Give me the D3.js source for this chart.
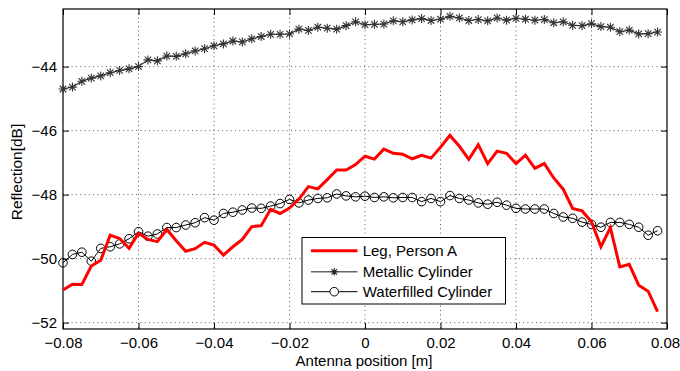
<!DOCTYPE html>
<html>
<head>
<meta charset="utf-8">
<script src="https://cdn.jsdelivr.net/npm/d3@7/dist/d3.min.js"></script>
<style>
  html, body { margin: 0; padding: 0; background: #fff; }
  svg { display: block; font-family: "Liberation Sans", Arial, Helvetica, sans-serif; }
</style>
</head>
<body>
<svg id="chart" width="680" height="371"></svg>
<script>
// Antenna positions: 64 samples, 2.5 mm apart, from -0.08 m
const positions = d3.range(64).map(i => -0.08 + i * 0.0025);

// Measured reflection [dB] per antenna position
const legPersonA = [
  -50.98, -50.80, -50.81, -50.23, -50.05, -49.27, -49.37, -49.68, -49.21, -49.40,
  -49.47, -49.09, -49.44, -49.77, -49.69, -49.49, -49.58, -49.89, -49.63, -49.40,
  -49.00, -48.97, -48.46, -48.59, -48.42, -48.14, -47.75, -47.82, -47.53, -47.23,
  -47.23, -47.06, -46.80, -46.89, -46.58, -46.71, -46.74, -46.88, -46.77, -46.86,
  -46.52, -46.15, -46.49, -46.90, -46.44, -47.03, -46.64, -46.71, -47.03, -46.77,
  -47.18, -47.03, -47.48, -47.83, -48.43, -48.51, -48.85, -49.63, -49.03, -50.26,
  -50.18, -50.83, -51.02, -51.66
];
const metallicCylinder = [
  -44.70, -44.64, -44.46, -44.36, -44.29, -44.19, -44.12, -44.07, -44.00, -43.79,
  -43.82, -43.67, -43.68, -43.60, -43.51, -43.44, -43.35, -43.29, -43.20, -43.23,
  -43.13, -43.06, -42.99, -42.99, -42.98, -42.83, -42.87, -42.77, -42.80, -42.83,
  -42.72, -42.60, -42.69, -42.68, -42.67, -42.57, -42.60, -42.54, -42.50, -42.56,
  -42.52, -42.43, -42.48, -42.56, -42.53, -42.57, -42.48, -42.55, -42.49, -42.52,
  -42.55, -42.53, -42.63, -42.60, -42.71, -42.72, -42.66, -42.75, -42.77, -42.91,
  -42.86, -42.98, -42.97, -42.92
];
const waterfilledCylinder = [
  -50.13, -49.87, -49.80, -50.08, -49.68, -49.63, -49.54, -49.38, -49.16, -49.30,
  -49.23, -49.03, -49.03, -48.95, -48.88, -48.72, -48.80, -48.59, -48.55, -48.48,
  -48.42, -48.43, -48.36, -48.28, -48.15, -48.26, -48.17, -48.12, -48.10, -47.98,
  -48.04, -48.07, -48.05, -48.09, -48.07, -48.10, -48.09, -48.09, -48.22, -48.12,
  -48.22, -48.03, -48.12, -48.17, -48.26, -48.30, -48.24, -48.33, -48.43, -48.45,
  -48.45, -48.45, -48.59, -48.70, -48.74, -48.86, -48.93, -49.02, -48.87, -48.87,
  -48.93, -49.02, -49.27, -49.13
];

const xTicks = [-0.08, -0.06, -0.04, -0.02, 0, 0.02, 0.04, 0.06, 0.08];
const yTicks = [-52, -50, -48, -46, -44];
const seriesNames = ["Leg, Person A", "Metallic Cylinder", "Waterfilled Cylinder"];

const svg = d3.select("#chart");
const plot = { left: 63, right: 667, top: 9, bottom: 329 };
const fontSize = "15px";

const x = d3.scaleLinear().domain([-0.08, 0.08]).range([plot.left, plot.right]);
const y = d3.scaleLinear().domain([-52.2, -42.2]).range([plot.bottom, plot.top]);

const fmt = v => (v === 0 ? "0" : d3.format("")(v)).replace("-", "\u2212");

// grid
const grid = svg.append("g").attr("stroke", "#333").attr("stroke-width", 0.8)
  .attr("stroke-dasharray", "1,3.3");
xTicks.slice(1, -1).forEach(t => {
  grid.append("line").attr("x1", x(t)).attr("x2", x(t))
    .attr("y1", plot.top).attr("y2", plot.bottom);
});
yTicks.forEach(t => {
  grid.append("line").attr("x1", plot.left).attr("x2", plot.right)
    .attr("y1", y(t)).attr("y2", y(t));
});

// axes (ticks pointing inward, mirrored on the opposite sides)
const tickLen = 6;
const xAxisB = d3.axisBottom(x).tickValues(xTicks).tickSizeInner(-tickLen).tickSizeOuter(0)
  .tickPadding(8.5).tickFormat(fmt);
const xAxisT = d3.axisTop(x).tickValues(xTicks).tickSizeInner(-tickLen).tickSizeOuter(0)
  .tickFormat("");
const yAxisL = d3.axisLeft(y).tickValues(yTicks).tickSizeInner(-tickLen).tickSizeOuter(0)
  .tickPadding(6).tickFormat(fmt);
const yAxisR = d3.axisRight(y).tickValues(yTicks).tickSizeInner(-tickLen).tickSizeOuter(0)
  .tickFormat("");

function styleAxis(g) {
  g.select(".domain").remove();
  g.selectAll(".tick line").attr("stroke", "#000").attr("stroke-width", 1);
  g.selectAll(".tick text").attr("fill", "#000").style("font-size", fontSize)
    .style("font-family", "'Liberation Sans', Arial, sans-serif");
}
svg.append("g").attr("transform", `translate(0,${plot.bottom})`).call(xAxisB).call(styleAxis)
  .selectAll(".tick text").filter(d => d === 0.08).attr("dx", -2); // keep the last label inside the frame
svg.append("g").attr("transform", `translate(0,${plot.top})`).call(xAxisT).call(styleAxis);
svg.append("g").attr("transform", `translate(${plot.left},0)`).call(yAxisL).call(styleAxis);
svg.append("g").attr("transform", `translate(${plot.right},0)`).call(yAxisR).call(styleAxis);

// plot box
svg.append("rect").attr("x", plot.left).attr("y", plot.top)
  .attr("width", plot.right - plot.left).attr("height", plot.bottom - plot.top)
  .attr("fill", "none").attr("stroke", "#000").attr("stroke-width", 1.2);

// axis labels
svg.append("text").attr("x", 364).attr("y", 366)
  .attr("text-anchor", "middle").style("font-size", fontSize).text("Antenna position [m]");
svg.append("text").attr("transform", `translate(22,172) rotate(-90)`)
  .attr("text-anchor", "middle").style("font-size", "15.5px").text("Reflection[dB]");

const line = d3.line().x((d, i) => x(positions[i])).y(d => y(d));

// star marker path ('*': plus + cross)
function starPath(cx, cy, r) {
  const d = r * 0.72;
  return `M${cx - r},${cy}L${cx + r},${cy}M${cx},${cy - r}L${cx},${cy + r}` +
    `M${cx - d},${cy - d}L${cx + d},${cy + d}M${cx - d},${cy + d}L${cx + d},${cy - d}`;
}

// Metallic cylinder
svg.append("path").datum(metallicCylinder).attr("d", line)
  .attr("fill", "none").attr("stroke", "#222").attr("stroke-width", 1.1);
svg.append("g").selectAll("path").data(metallicCylinder).join("path")
  .attr("d", (d, i) => starPath(x(positions[i]), y(d), 4.5))
  .attr("stroke", "#333").attr("stroke-width", 1.1).attr("fill", "none");

// Waterfilled cylinder
svg.append("path").datum(waterfilledCylinder).attr("d", line)
  .attr("fill", "none").attr("stroke", "#000").attr("stroke-width", 1);
svg.append("g").selectAll("circle").data(waterfilledCylinder).join("circle")
  .attr("cx", (d, i) => x(positions[i])).attr("cy", d => y(d)).attr("r", 4.3)
  .attr("fill", "none").attr("stroke", "#000").attr("stroke-width", 1);

// Leg, person A
svg.append("path").datum(legPersonA).attr("d", line)
  .attr("fill", "none").attr("stroke", "#ff0000").attr("stroke-width", 3)
  .attr("stroke-linejoin", "miter");

// legend
const lg = svg.append("g");
lg.append("rect").attr("x", 302).attr("y", 237.5).attr("width", 203.5).attr("height", 66.5)
  .attr("fill", "#fff").attr("stroke", "#000").attr("stroke-width", 1);
const rowsY = [250.7, 271.8, 291.7];
const lx1 = 311, lx2 = 357.5;
seriesNames.forEach((name, k) => {
  const yy = rowsY[k];
  if (k === 0) {
    lg.append("line").attr("x1", lx1).attr("x2", lx2).attr("y1", yy).attr("y2", yy)
      .attr("stroke", "#ff0000").attr("stroke-width", 3);
  } else if (k === 1) {
    lg.append("line").attr("x1", lx1).attr("x2", lx2).attr("y1", yy).attr("y2", yy)
      .attr("stroke", "#666").attr("stroke-width", 1.6);
    lg.append("path").attr("d", starPath((lx1 + lx2) / 2, yy, 3.8))
      .attr("stroke", "#222").attr("stroke-width", 1.1).attr("fill", "none");
  } else {
    lg.append("line").attr("x1", lx1).attr("x2", lx2).attr("y1", yy).attr("y2", yy)
      .attr("stroke", "#000").attr("stroke-width", 1);
    lg.append("circle").attr("cx", (lx1 + lx2) / 2).attr("cy", yy).attr("r", 4.3)
      .attr("fill", "#fff").attr("stroke", "#000").attr("stroke-width", 1);
  }
  lg.append("text").attr("x", 362.7).attr("y", yy + 5.4).style("font-size", fontSize).text(name);
});
</script>
</body>
</html>
